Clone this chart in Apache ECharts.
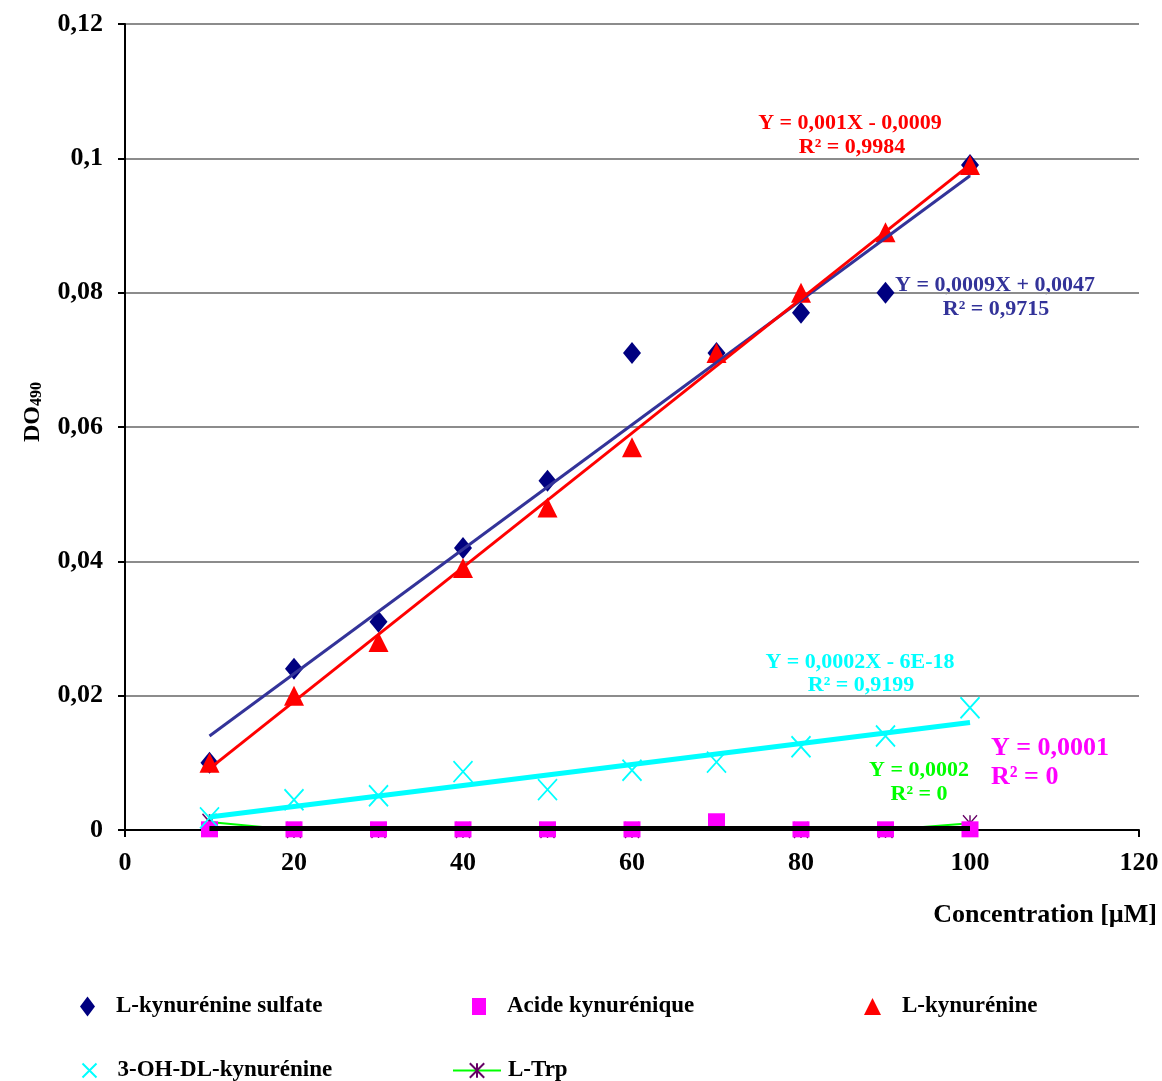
<!DOCTYPE html>
<html>
<head>
<meta charset="utf-8">
<script src="https://cdn.jsdelivr.net/npm/echarts@6/dist/echarts.min.js"></script>
<style>
html,body{margin:0;padding:0;background:#fff;}
#chart{width:1162px;height:1081px;}
</style>
</head>
<body>
<div id="chart"></div>
<script>
// ---- Data ----
const concentrations = [10, 20, 30, 40, 50, 60, 70, 80, 90, 100];
const kynSulfate = [0.010, 0.024, 0.031, 0.042, 0.052, 0.071, 0.071, 0.077, 0.080, 0.099];
const acideKyn = [0.0001, 0.0001, 0.0001, 0.0001, 0.0001, 0.0001, 0.0013, 0.0001, 0.0001, 0.0001];
const lKyn = [0.010, 0.020, 0.028, 0.039, 0.048, 0.057, 0.071, 0.080, 0.089, 0.099];
const ohKyn = [0.0018, 0.0045, 0.0051, 0.0087, 0.0060, 0.0089, 0.0101, 0.0124, 0.0140, 0.0182];
const lTrp = [0.0012, 0.0000, 0.0000, 0.0000, 0.0000, 0.0000, -0.0003, 0.0000, 0.0000, 0.0010];
const xTicks = [0, 120, 20];
const yTicks = [0, 0.12, 0.02];

const FONT = '"Liberation Serif", "Times New Roman", serif';

function pairs(ys) { return concentrations.map((x, i) => [x, ys[i]]); }
function fit(ys) {
  const n = ys.length;
  const mx = concentrations.reduce((a, b) => a + b, 0) / n;
  const my = ys.reduce((a, b) => a + b, 0) / n;
  let sxy = 0, sxx = 0;
  concentrations.forEach((x, i) => { sxy += (x - mx) * (ys[i] - my); sxx += (x - mx) * (x - mx); });
  const m = sxy / sxx, b = my - m * mx;
  const x0 = concentrations[0], x1 = concentrations[n - 1];
  return [[x0, m * x0 + b], [x1, m * x1 + b]];
}
function flat(ys) {
  const my = ys.reduce((a, b) => a + b, 0) / ys.length;
  return [[concentrations[0], my], [concentrations[concentrations.length - 1], my]];
}

const crossPath = 'path://M0,0L10,10M10,0L0,10';
const starPath = 'path://M0,0L10,10M10,0L0,10M5,0L5,10';

const chart = echarts.init(document.getElementById('chart'), null, {renderer: 'canvas'});

function trend(data, color, width, z) {
  return {type: 'line', data: data, showSymbol: false, symbol: 'none', silent: true,
    lineStyle: {color: color, width: width}, z: z, animation: false};
}

const legendBase = {
  orient: 'horizontal',
  textStyle: {fontFamily: FONT, fontWeight: 'bold', fontSize: 23, color: '#000', padding: [0, 0, 0, 16]},
  itemGap: 10, selectedMode: false
};

const option = {
  animation: false,
  backgroundColor: '#fff',
  grid: {left: 125, right: 23, top: 24, bottom: 251, containLabel: false},
  xAxis: {
    type: 'value', min: xTicks[0], max: xTicks[1], interval: xTicks[2],
    axisLine: {show: true, lineStyle: {color: '#000', width: 2}},
    axisTick: {show: true, inside: false, length: 7, lineStyle: {color: '#000', width: 2}},
    axisLabel: {fontFamily: FONT, fontWeight: 'bold', fontSize: 26, color: '#000', margin: 20},
    splitLine: {show: false}
  },
  yAxis: {
    type: 'value', min: yTicks[0], max: yTicks[1], interval: yTicks[2],
    name: '{m|DO}{s|490}', nameLocation: 'middle', nameGap: 80, nameRotate: 90,
    nameTextStyle: {padding: [0, 0, 0, 30], rich: {
      m: {fontFamily: FONT, fontWeight: 'bold', fontSize: 24, color: '#000'},
      s: {fontFamily: FONT, fontWeight: 'bold', fontSize: 16, color: '#000', verticalAlign: 'bottom', padding: [8, 0, 0, 0]}
    }},
    axisLine: {show: true, lineStyle: {color: '#000', width: 2}},
    axisTick: {show: true, inside: false, length: 7, lineStyle: {color: '#000', width: 2}},
    axisLabel: {fontFamily: FONT, fontWeight: 'bold', fontSize: 26, color: '#000', margin: 22,
      formatter: v => String(+v.toFixed(4)).replace('.', ',')},
    splitLine: {show: true, lineStyle: {color: '#8c8c8c', width: 2}}
  },
  legend: [
    Object.assign({}, legendBase, {data: ['L-kynurénine sulfate'], left: 75, top: 990, itemWidth: 15, itemHeight: 20}),
    Object.assign({}, legendBase, {data: ['Acide kynurénique'], left: 467, top: 990, itemWidth: 14, itemHeight: 17}),
    Object.assign({}, legendBase, {data: ['L-kynurénine'], left: 859, top: 990, itemWidth: 17, itemHeight: 17}),
    Object.assign({}, legendBase, {data: ['3-OH-DL-kynurénine'], left: 75, top: 1054, itemWidth: 14, itemHeight: 20}),
    Object.assign({}, legendBase, {data: ['L-Trp'], left: 447, top: 1054, itemWidth: 48, itemHeight: 18,
      textStyle: Object.assign({}, legendBase.textStyle, {padding: [0, 0, 0, 2]})})
  ],
  series: [
    {name: 'L-Trp', type: 'line', data: pairs(lTrp), symbol: starPath, symbolSize: [14, 16], showSymbol: true,
      lineStyle: {color: '#00ff00', width: 2}, itemStyle: {color: 'none', borderColor: '#660066', borderWidth: 1.5, opacity: 1}, z: 2},
    {name: 'L-kynurénine sulfate', type: 'scatter', data: pairs(kynSulfate), symbol: 'diamond', symbolSize: [18, 22],
      itemStyle: {color: '#000080', opacity: 1}, z: 3},
    {name: 'Acide kynurénique', type: 'scatter', data: pairs(acideKyn), symbol: 'rect', symbolSize: [17, 16],
      itemStyle: {color: '#ff00ff', opacity: 1}, z: 4},
    {name: 'L-kynurénine', type: 'scatter', data: pairs(lKyn), symbol: 'triangle', symbolSize: [20, 20],
      itemStyle: {color: '#ff0000', opacity: 1}, z: 5},
    {name: '3-OH-DL-kynurénine', type: 'scatter', data: pairs(ohKyn), symbol: crossPath, symbolSize: [19, 21],
      itemStyle: {color: 'none', borderColor: '#00ffff', borderWidth: 1.8, opacity: 1}, z: 6},
    trend(fit(kynSulfate), '#333399', 3, 7),
    trend(fit(lKyn), '#ff0000', 3, 8),
    trend(fit(ohKyn), '#00ffff', 5, 7),
    trend(flat(lTrp), '#00ff00', 3, 7),
    trend(flat(acideKyn), '#000000', 5, 7)
  ],
  graphic: [
    {type: 'text', x: 850, y: 123, style: {text: 'Y = 0,001X - 0,0009', fill: '#ff0000', font: 'bold 22px ' + FONT, textAlign: 'center', textVerticalAlign: 'middle'}},
    {type: 'text', x: 852, y: 147, style: {text: 'R² = 0,9984', fill: '#ff0000', font: 'bold 22px ' + FONT, textAlign: 'center', textVerticalAlign: 'middle'}},
    {type: 'text', x: 995, y: 285, style: {text: 'Y = 0,0009X + 0,0047', fill: '#333399', font: 'bold 22px ' + FONT, textAlign: 'center', textVerticalAlign: 'middle'}},
    {type: 'text', x: 996, y: 309, style: {text: 'R² = 0,9715', fill: '#333399', font: 'bold 22px ' + FONT, textAlign: 'center', textVerticalAlign: 'middle'}},
    {type: 'text', x: 860, y: 662, style: {text: 'Y = 0,0002X - 6E-18', fill: '#00ffff', font: 'bold 22px ' + FONT, textAlign: 'center', textVerticalAlign: 'middle'}},
    {type: 'text', x: 861, y: 685, style: {text: 'R² = 0,9199', fill: '#00ffff', font: 'bold 22px ' + FONT, textAlign: 'center', textVerticalAlign: 'middle'}},
    {type: 'text', x: 919, y: 770, style: {text: 'Y = 0,0002', fill: '#00ff00', font: 'bold 22px ' + FONT, textAlign: 'center', textVerticalAlign: 'middle'}},
    {type: 'text', x: 919, y: 794, style: {text: 'R² = 0', fill: '#00ff00', font: 'bold 22px ' + FONT, textAlign: 'center', textVerticalAlign: 'middle'}},
    {type: 'text', x: 991, y: 748, style: {text: 'Y = 0,0001', fill: '#ff00ff', font: 'bold 26px ' + FONT, textAlign: 'left', textVerticalAlign: 'middle'}},
    {type: 'text', x: 991, y: 777, style: {text: 'R² = 0', fill: '#ff00ff', font: 'bold 26px ' + FONT, textAlign: 'left', textVerticalAlign: 'middle'}},
    {type: 'text', x: 1157, y: 915, style: {text: 'Concentration [µM]', fill: '#000', font: 'bold 26px ' + FONT, textAlign: 'right', textVerticalAlign: 'middle'}}
  ]
};
chart.setOption(option);
</script>
</body>
</html>
